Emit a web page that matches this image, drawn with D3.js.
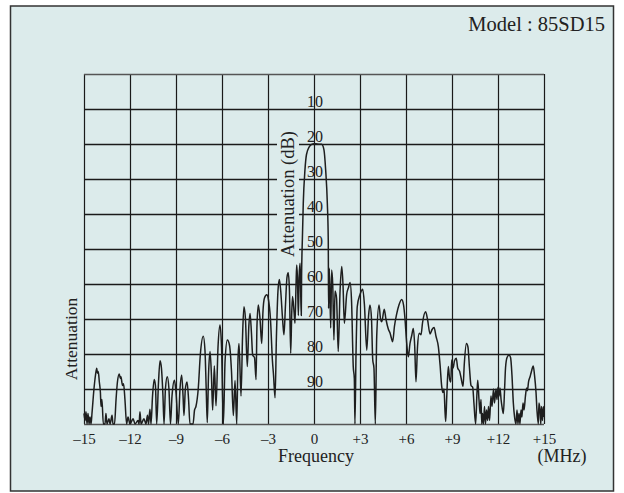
<!DOCTYPE html>
<html>
<head>
<meta charset="utf-8">
<script src="https://cdn.jsdelivr.net/npm/d3@7"></script>
<style>
  html, body { margin: 0; padding: 0; background: #ffffff; }
  svg { display: block; }
  text { font-family: "Liberation Serif", "DejaVu Serif", serif; fill: #222; }
</style>
</head>
<body>
<div id="chart"></div>
<script>
// ---- data ----
const modelLabel = "Model : 85SD15";
const freqTicks = [-15, -12, -9, -6, -3, 0, 3, 6, 9, 12, 15];
const freqTickLabels = ["–15", "–12", "–9", "–6", "–3", "0", "+3", "+6", "+9", "+12", "+15"];
const dbTicks = [10, 20, 30, 40, 50, 60, 70, 80, 90];
const dbGrid = [0, 10, 20, 30, 40, 50, 60, 70, 80, 90, 100];
// [frequency MHz, attenuation dB]
const spectrum = [
[-15.0,97],[-14.93,99],[-14.87,96.5],[-14.8,100],[-14.74,97],[-14.67,100],[-14.61,98],[-14.54,100],[-14.48,97],[-14.35,90],[-14.25,86],[-14.17,84.1],[-14.12,85.5],[-14.07,85],[-14.0,88],[-13.93,91],[-13.89,95],[-13.83,93],[-13.74,100],[-13.63,100],[-13.57,97],[-13.5,100],[-13.37,98.5],[-13.3,100],[-13.17,97.5],[-13.11,100],[-13.01,100],[-12.91,93],[-12.82,88],[-12.7,85.7],[-12.63,87],[-12.59,86.5],[-12.49,89],[-12.42,88.5],[-12.33,93],[-12.22,100],[-12.13,98],[-12.0,100],[-11.8,98.5],[-11.67,100],[-11.48,99],[-11.41,100],[-11.35,96.5],[-11.28,100],[-11.09,98.5],[-10.96,100],[-10.86,97.5],[-10.79,100],[-10.7,95.8],[-10.63,100],
[-10.53,92],[-10.42,87.3],[-10.34,89],[-10.26,100],[-10.14,88],[-10.04,81.9],[-9.95,84],[-9.85,92],[-9.78,100],[-9.69,90],[-9.57,86.5],[-9.46,90],[-9.36,100],[-9.26,92],[-9.1,87.5],[-9.0,91],[-8.85,100],[-8.74,90],[-8.63,86],[-8.54,92],[-8.48,97.6],[-8.39,90],[-8.28,88],[-8.18,93],[-8.09,100],[-7.89,100],[-7.79,96],[-7.7,95],[-7.55,90],[-7.41,80],[-7.22,74.9],[-7.11,79],[-7.03,90],[-6.96,99.6],[-6.88,86],[-6.78,79.3],[-6.69,86],[-6.61,96],[-6.5,83.4],[-6.39,94.8],[-6.26,78],[-6.13,71.7],[-6.03,78],[-5.91,100],[-5.8,82],[-5.65,76],[-5.51,77.5],[-5.38,85],[-5.26,97.6],[-5.15,87.6],[-5.04,100],[-4.96,82],[-4.89,77],[-4.76,92],[-4.66,75],[-4.57,66.5],[-4.47,70],[-4.35,83.6],[-4.25,72],[-4.17,68.4],[-4.08,74],[-4.0,80.3],[-3.88,81],[-3.78,87.3],[-3.72,72],[-3.63,66],[-3.52,70],[-3.41,77],[-3.33,68],[-3.23,64],[-3.08,63.1],[-2.97,64.5],[-2.84,70],[-2.71,82],[-2.64,86],[-2.54,92.5],[-2.45,75],[-2.35,62],[-2.26,58.7],[-2.17,62],[-2.05,70],[-1.96,74.5],[-1.86,66],[-1.76,58],[-1.68,56.8],[-1.6,62],[-1.52,79.8],[-1.45,68],[-1.4,63.6],[-1.3,68],[-1.24,71.2],[-1.17,60],[-1.13,54.6],[-1.08,58],[-1.02,69],[-0.97,58],[-0.91,54.1],[-0.87,62],[-0.83,69],[-0.81,58],[-0.76,47.4],[-0.7,37],[-0.59,27.4],[-0.49,23],[-0.31,20.8],[-0.15,20.1],[0.0,19.9],[0.2,20.0],[0.5,20.1],[0.65,21.7],[0.76,27.4],[0.87,37],[0.93,47.4],[0.95,67],[1.0,55.5],[1.09,72.6],[1.15,56],[1.22,60],[1.3,76],[1.37,62],[1.47,64],[1.58,79.3],[1.7,62],[1.81,55],[1.89,60],[1.98,71.2],[2.13,63],[2.25,61],[2.35,59.6],[2.45,65],[2.56,83.6],[2.63,87],[2.67,100],[2.74,80],[2.82,66.5],[3.0,63],[3.18,61.5],[3.29,66],[3.44,78.9],[3.56,69],[3.65,66],[3.75,70],[3.83,81.6],[3.91,84],[4.0,100],[4.09,75],[4.24,66],[4.34,70],[4.42,70.8],[4.58,67.2],[4.69,70],[4.85,72.9],[4.96,74],[5.05,75.5],[5.13,76.5],[5.25,72],[5.39,68.6],[5.54,66],[5.72,64.4],[5.84,66],[5.93,69.7],[6.03,76],[6.15,80.8],[6.26,77],[6.36,75],[6.48,72.7],[6.57,78],[6.65,87.9],[6.75,78],[6.86,74.1],[6.98,74.5],[7.08,71],[7.28,67.9],[7.4,70],[7.57,74.3],[7.7,73],[7.83,72.4],[7.96,75],[8.11,77.9],[8.22,83],[8.33,89.3],[8.41,91],[8.48,90],[8.54,96],[8.59,99.3],[8.66,92],[8.76,83.6],[8.84,87],[8.92,88],[8.98,81.7],[9.07,84],[9.16,82],[9.28,81.2],[9.37,84],[9.5,85],[9.6,87],[9.72,89.3],[9.8,83],[9.94,77],[10.04,78],[10.14,84],[10.24,89],[10.35,89.5],[10.43,94],[10.54,100],[10.63,91],[10.68,87.5],[10.76,93],[10.83,97],[10.89,93],[10.94,100],[10.99,97],[11.05,100],[11.12,95],[11.18,100],[11.25,96],[11.32,99],[11.38,95],[11.45,99],[11.54,92],[11.61,95],[11.71,90],[11.77,94],[11.87,90],[11.93,93],[12.0,89.5],[12.07,92],[12.13,89.7],[12.2,93],[12.26,95],[12.35,97],[12.43,90],[12.49,84],[12.59,81],[12.72,80.3],[12.82,81],[12.91,86],[13.0,94],[13.08,98],[13.17,100],[13.24,96],[13.3,100],[13.37,97],[13.43,100],[13.5,96],[13.56,98],[13.63,94],[13.7,96],[13.79,92],[13.87,89.7],[13.92,90.5],[13.99,88],[14.09,86.5],[14.18,85],[14.3,83.4],[14.38,86],[14.48,91],[14.54,96],[14.63,100],[14.67,94],[14.74,96],[14.79,100],[14.84,95],[14.9,99],[14.96,95],[15.0,98]
];

// ---- layout ----
const W = 624, H = 493;
const plot = { left: 84, right: 544, top: 74, bottom: 424 };

const svg = d3.select("#chart").append("svg").attr("width", W).attr("height", H);

// panel
svg.append("rect")
  .attr("x", 10.5).attr("y", 6).attr("width", 603).attr("height", 485)
  .attr("fill", "#dcebeb").attr("stroke", "#333").attr("stroke-width", 1.5);

const x = d3.scaleLinear().domain([-15, 15]).range([plot.left, plot.right]);
const y = d3.scaleLinear().domain([0, 100]).range([plot.top, plot.bottom]);

// vertical grid + x tick labels via axis
const xAxis = d3.axisBottom(x)
  .tickValues(freqTicks)
  .tickSize(-(plot.bottom - plot.top))
  .tickPadding(9)
  .tickFormat((d, i) => freqTickLabels[i]);
const gx = svg.append("g").attr("transform", `translate(0,${plot.bottom})`).call(xAxis);
gx.select(".domain").remove();
gx.selectAll(".tick line").attr("stroke", "#1a1a1a").attr("stroke-width", 1.2);
gx.selectAll(".tick text")
  .attr("font-family", "Liberation Serif, serif").attr("font-size", 15).attr("fill", "#222");

// horizontal grid via axis
const yAxis = d3.axisLeft(y)
  .tickValues(dbGrid)
  .tickSize(-(plot.right - plot.left))
  .tickFormat("");
const gy = svg.append("g").attr("transform", `translate(${plot.left},0)`).call(yAxis);
gy.select(".domain").remove();
gy.selectAll(".tick line").attr("stroke", (d) => (d === 0 || d === 100) ? "#555" : "#1a1a1a").attr("stroke-width", 1.3);

// rotated inner label with background
const innerLabel = svg.append("g").attr("transform", `translate(294,194) rotate(-90)`);
innerLabel.append("rect")
  .attr("x", -66).attr("y", -17).attr("width", 132).attr("height", 22)
  .attr("fill", "#dcebeb");
innerLabel.append("text")
  .attr("text-anchor", "middle")
  .attr("font-size", 18.5)
  .text("Attenuation (dB)");

// dB labels along 0 MHz line
svg.append("g").selectAll("text").data(dbTicks).join("text")
  .attr("x", x(0) + 1)
  .attr("y", (d) => y(d) - 2.5)
  .attr("text-anchor", "middle")
  .attr("font-size", 16)
  .attr("fill", "#333")
  .text((d) => d);

// curve
const line = d3.line()
  .x((d) => x(d[0]))
  .y((d) => y(Math.min(100, d[1])))
  .curve(d3.curveMonotoneX);
svg.append("path")
  .datum(spectrum)
  .attr("d", line)
  .attr("fill", "none")
  .attr("stroke", "#1e1e1e")
  .attr("stroke-width", 1.5)
  .attr("stroke-linejoin", "round");

// titles
svg.append("text")
  .attr("x", 605).attr("y", 31)
  .attr("text-anchor", "end")
  .attr("font-size", 20.5)
  .text(modelLabel);

svg.append("text")
  .attr("x", x(0) + 2).attr("y", 462)
  .attr("text-anchor", "middle")
  .attr("font-size", 18)
  .text("Frequency");

svg.append("text")
  .attr("x", 562).attr("y", 462)
  .attr("text-anchor", "middle")
  .attr("font-size", 18)
  .text("(MHz)");

svg.append("text")
  .attr("transform", `translate(77,339) rotate(-90)`)
  .attr("text-anchor", "middle")
  .attr("font-size", 17.5)
  .text("Attenuation");
</script>
</body>
</html>
